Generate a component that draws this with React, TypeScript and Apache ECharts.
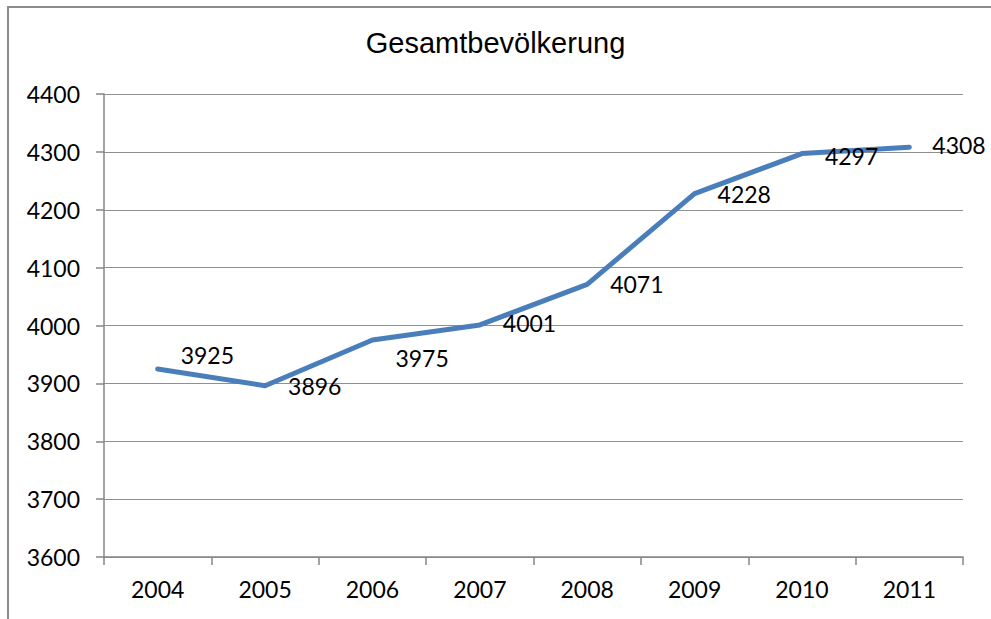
import React, { useEffect, useRef } from "react";
import * as echarts from "echarts";

const titleText = "Gesamtbevölkerung";
const years = ["2004", "2005", "2006", "2007", "2008", "2009", "2010", "2011"];
const population = [3925, 3896, 3975, 4001, 4071, 4228, 4297, 4308];
const yMin = 3600;
const yMax = 4400;
const yStep = 100;
// vertical nudges of data labels (px), as placed in the original
const labelDy = [-14, 0, 18, -2, 0, 0, 2, -2];

export default function App() {
  const ref = useRef<HTMLDivElement>(null);
  useEffect(() => {
    if (!ref.current) return;
    const chart = echarts.init(ref.current, undefined, { renderer: "svg" });
    const axisGray = "#868686";
    chart.setOption({
      animation: false,
      backgroundColor: "#ffffff",
      title: {
        text: titleText,
        left: "center",
        top: 23,
        textStyle: {
          fontFamily: "Liberation Sans, Arial, sans-serif",
          fontSize: 29,
          fontWeight: "normal",
          color: "#000000",
        },
      },
      graphic: [
        {
          type: "polyline",
          shape: { points: [[8, 619], [8, 7], [991, 7]] },
          style: { stroke: "#8c8c8c", lineWidth: 2, fill: "none" },
          silent: true,
        },
      ],
      grid: { left: 104, right: 28, top: 94, bottom: 62 },
      xAxis: {
        type: "category",
        data: years,
        boundaryGap: true,
        axisLine: { lineStyle: { color: axisGray, width: 1.5 } },
        axisTick: { show: true, length: 8, alignWithLabel: false, lineStyle: { color: axisGray, width: 1.5 } },
        axisLabel: {
          margin: 20,
          fontFamily: "Lato, sans-serif",
          fontSize: 23,
          color: "#000000",
        },
        splitLine: { show: false },
      },
      yAxis: {
        type: "value",
        min: yMin,
        max: yMax,
        interval: yStep,
        axisLine: { show: true, lineStyle: { color: axisGray, width: 1.5 } },
        axisTick: { show: true, length: 8, lineStyle: { color: axisGray, width: 1.5 } },
        axisLabel: {
          margin: 24,
          fontFamily: "Lato, sans-serif",
          fontSize: 23,
          color: "#000000",
          formatter: (v: number) => String(v),
        },
        splitLine: { show: true, lineStyle: { color: "#909090", width: 1 } },
      },
      series: [
        {
          type: "line",
          data: population.map((v, i) => ({
            value: v,
            label: { offset: [0, labelDy[i]] },
          })),
          symbol: "circle",
          symbolSize: 2,
          showSymbol: true,
          lineStyle: { color: "#4a7ebb", width: 5, cap: "round", join: "round" },
          itemStyle: { color: "rgba(0,0,0,0)", borderWidth: 0 },
          label: {
            show: true,
            position: "right",
            distance: 22,
            fontFamily: "Lato, sans-serif",
            fontSize: 23,
            color: "#000000",
            formatter: (p: any) => String(p.value),
          },
        },
      ],
    });
    return () => chart.dispose();
  }, []);
  return (
    <div
      ref={ref}
      style={{ position: "fixed", left: 0, top: 0, width: 991, height: 619 }}
    />
  );
}
